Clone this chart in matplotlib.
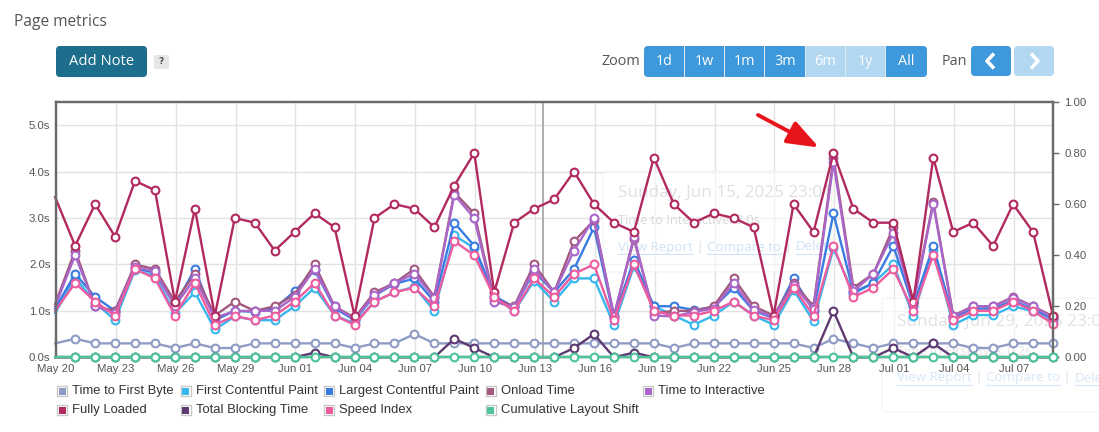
import matplotlib
matplotlib.use("Agg")
import matplotlib.pyplot as plt
import matplotlib.dates as mdates
from matplotlib.patches import FancyBboxPatch, Rectangle, FancyArrowPatch
from matplotlib.transforms import IdentityTransform
from matplotlib.ticker import FixedLocator
import pandas as pd

plt.rcParams["font.family"] = ["Liberation Sans", "DejaVu Sans"]

W, H = 1099, 432

# ---------------- data ----------------
dates = pd.date_range("2025-05-19 23:01", periods=51, freq="D")

fully_loaded = [3.45, 2.40, 3.30, 2.60, 3.80, 3.60, 1.20, 3.20, 0.90, 3.00, 2.90, 2.30, 2.70,
                3.10, 2.80, 0.90, 3.00, 3.30, 3.20, 2.80, 3.70, 4.40, 1.40, 2.90, 3.20, 3.40,
                4.00, 3.30, 2.90, 2.70, 4.30, 3.30, 2.90, 3.10, 3.00, 2.80, 0.90, 3.30, 2.70,
                4.40, 3.20, 2.90, 2.90, 1.20, 4.30, 2.70, 2.90, 2.40, 3.30, 2.70, 0.90]
onload = [1.15, 2.30, 1.10, 1.00, 2.00, 1.90, 1.20, 1.80, 0.90, 1.20, 1.00, 1.10, 1.35,
          2.00, 1.10, 0.85, 1.40, 1.60, 1.90, 1.30, 3.55, 3.10, 1.25, 1.10, 2.00, 1.40,
          2.50, 2.95, 0.90, 2.55, 0.95, 1.00, 1.00, 1.10, 1.70, 1.10, 0.90, 1.60, 1.10,
          4.30, 1.50, 1.80, 2.80, 1.20, 3.35, 0.90, 1.10, 1.10, 1.30, 1.10, 0.88]
tti = [1.10, 2.20, 1.10, 0.95, 1.95, 1.85, 1.10, 1.70, 0.85, 1.00, 1.00, 1.00, 1.30,
       1.90, 1.10, 0.82, 1.35, 1.60, 1.80, 1.28, 3.50, 3.00, 1.20, 1.08, 1.90, 1.40,
       2.30, 3.00, 0.88, 2.60, 0.90, 0.88, 0.98, 1.05, 1.60, 1.02, 0.88, 1.55, 1.05,
       4.20, 1.42, 1.80, 2.68, 1.15, 3.30, 0.88, 1.10, 1.10, 1.28, 1.10, 0.85]
lcp = [1.05, 1.80, 1.30, 1.00, 1.92, 1.82, 1.12, 1.90, 0.80, 1.00, 0.98, 1.06, 1.42,
       1.88, 1.06, 0.80, 1.33, 1.58, 1.70, 1.20, 2.90, 2.40, 1.32, 1.08, 1.85, 1.40,
       1.90, 2.80, 0.85, 2.10, 1.10, 1.10, 1.02, 1.08, 1.50, 1.00, 0.85, 1.70, 1.00,
       3.10, 1.40, 1.60, 2.40, 1.10, 2.40, 0.85, 1.05, 1.05, 1.22, 1.04, 0.82]
fcp = [0.95, 1.72, 1.18, 0.80, 1.88, 1.75, 0.95, 1.40, 0.60, 0.88, 0.80, 0.80, 1.10,
       1.50, 0.90, 0.73, 1.20, 1.40, 1.52, 1.00, 2.63, 2.35, 1.30, 0.99, 1.65, 1.20,
       1.70, 1.70, 0.70, 1.96, 1.10, 0.90, 0.70, 0.90, 1.20, 0.90, 0.70, 1.45, 0.78,
       2.35, 1.37, 1.60, 2.00, 0.90, 2.32, 0.70, 0.91, 0.91, 1.10, 0.99, 0.75]
speed_index = [1.00, 1.60, 1.20, 0.90, 1.90, 1.70, 0.90, 1.60, 0.70, 0.89, 0.80, 0.90, 1.20,
               1.60, 0.90, 0.70, 1.20, 1.40, 1.50, 1.10, 2.50, 2.20, 1.30, 1.00, 1.70, 1.30,
               1.80, 2.00, 0.80, 2.00, 1.00, 0.90, 0.90, 1.00, 1.20, 0.90, 0.80, 1.50, 0.90,
               2.40, 1.30, 1.50, 1.90, 1.00, 2.20, 0.80, 1.00, 1.00, 1.20, 1.00, 0.72]
ttfb = [0.30, 0.40, 0.30, 0.30, 0.30, 0.30, 0.20, 0.30, 0.20, 0.20, 0.30, 0.30, 0.30,
        0.30, 0.30, 0.20, 0.30, 0.30, 0.50, 0.30, 0.30, 0.30, 0.30, 0.30, 0.30, 0.30,
        0.30, 0.30, 0.30, 0.30, 0.30, 0.20, 0.30, 0.30, 0.30, 0.30, 0.30, 0.30, 0.20,
        0.40, 0.30, 0.20, 0.30, 0.30, 0.30, 0.30, 0.20, 0.20, 0.30, 0.30, 0.30]
tbt = [0.0, 0.0, 0.0, 0.0, 0.0, 0.0, 0.0, 0.0, 0.0, 0.0, 0.0, 0.0, 0.0,
       0.1, 0.0, 0.0, 0.0, 0.0, 0.0, 0.0, 0.4, 0.2, 0.0, 0.0, 0.0, 0.0,
       0.2, 0.5, 0.0, 0.1, 0.0, 0.0, 0.0, 0.0, 0.0, 0.0, 0.0, 0.0, 0.0,
       1.0, 0.0, 0.0, 0.2, 0.0, 0.3, 0.0, 0.0, 0.0, 0.0, 0.0, 0.0]
cls = [0.0] * 51

x_ticks = pd.date_range("2025-05-20", "2025-07-07", freq="3D")
left_ticks = [0, 1, 2, 3, 4, 5]
left_labels = ["0.0s", "1.0s", "2.0s", "3.0s", "4.0s", "5.0s"]
right_ticks = [0.0, 0.2, 0.4, 0.6, 0.8, 1.0]
right_labels = ["0.00", "0.20", "0.40", "0.60", "0.80", "1.00"]

# name, values, color, axis ; drawing order
series = [
    ("Time to First Byte", ttfb, "#8e9bc4", "left"),
    ("First Contentful Paint", fcp, "#36b7ee", "left"),
    ("Largest Contentful Paint", lcp, "#3a7be2", "left"),
    ("Onload Time", onload, "#a3587f", "left"),
    ("Time to Interactive", tti, "#a867c9", "left"),
    ("Fully Loaded", fully_loaded, "#b1295f", "left"),
    ("Total Blocking Time", tbt, "#5e3a72", "left"),
    ("Speed Index", speed_index, "#ee5c9f", "left"),
    ("Cumulative Layout Shift", cls, "#4cc49a", "right"),
]
legend_order = ["Time to First Byte", "First Contentful Paint", "Largest Contentful Paint",
                "Onload Time", "Time to Interactive", "Fully Loaded", "Total Blocking Time",
                "Speed Index", "Cumulative Layout Shift"]

# ---------------- figure ----------------
fig = plt.figure(figsize=(W / 100, H / 100), dpi=100)
fig.patch.set_facecolor("white")
L, R, T, B = 56, 1053, 102, 357.3
ax = fig.add_axes([L / W, 1 - B / H, (R - L) / W, (B - T) / H])
ax2 = ax.twinx()

ax.set_xlim(pd.Timestamp("2025-05-20 00:00"), dates[-1])
ax.set_ylim(0, 5.5)
ax2.set_ylim(0, 1.0)

ax.xaxis.set_major_locator(FixedLocator(mdates.date2num(x_ticks)))
ax.xaxis.set_major_formatter(mdates.DateFormatter("%b %d"))
ax.set_yticks(left_ticks)
ax.set_yticklabels(left_labels)
ax2.set_yticks(right_ticks)
ax2.set_yticklabels(right_labels)

ax.grid(True, color="#e2e2e2", lw=1.0, zorder=0)
ax.set_axisbelow(True)
# date labels are drawn by the (top-most) twin axes so the faded tooltip does not cover them
ax.tick_params(axis="x", length=0, labelbottom=False)
ax2.xaxis.set_visible(True)
ax2.tick_params(axis="x", length=0, pad=5, labelbottom=True, labelsize=8.2,
                labelcolor="#555555")
ax.tick_params(axis="y", length=0, pad=4, labelsize=8.2, labelcolor="#555555")
ax2.tick_params(axis="y", length=4, width=1, color="#666666", pad=4, labelsize=8.2,
                labelcolor="#555555")

for a in (ax, ax2):
    for s in a.spines.values():
        s.set_color("#6a6a6a")
        s.set_linewidth(1.6)

# hover crosshair line
ax.axvline(pd.Timestamp("2025-06-13 09:40"), color="#a8a8a8", lw=1.3, zorder=1)

for name, vals, color, side in series:
    target = ax if side == "left" else ax2
    target.plot(dates, vals, color=color, lw=1.7, marker="o", ms=5.6,
                mfc="white", mec=color, mew=1.5, markevery=list(range(1, len(vals))),
                clip_on=False, zorder=3)

# ---------------- helpers in pixel coords ----------------
ID = IdentityTransform()


def rbox(x0, y0, x1, y1, color, r=3, z=5, alpha=1.0, ec="none", lw=0, host=None):
    p = FancyBboxPatch((x0, H - y1), x1 - x0, y1 - y0,
                       boxstyle=f"round,pad=0,rounding_size={r}",
                       transform=ID, fc=color, ec=ec, lw=lw, zorder=z, alpha=alpha)
    if host is None:
        fig.patches.append(p)
    else:
        p.set_clip_on(False)
        host.add_patch(p)
    return p


def rect(x0, y0, x1, y1, color, z=6, ec="none", lw=0):
    p = Rectangle((x0, H - y1), x1 - x0, y1 - y0, transform=ID, fc=color,
                  ec=ec, lw=lw, zorder=z)
    fig.patches.append(p)
    return p


def ptext(x, y, s, host=None, **kw):
    if host is None:
        return fig.text(x, H - y, s, transform=ID, **kw)
    return host.text(x, H - y, s, transform=ID, clip_on=False, **kw)


hdr_font = "Open Sans"
# title
ptext(14, 22, "Page metrics", fontsize=11.2, color="#555555", family=hdr_font,
      va="center", ha="left")
# Add Note button
rbox(56, 46, 147, 77, "#1d6d8c", r=4)
ptext(101.5, 61.5, "Add Note", fontsize=10.6, color="white", family=hdr_font,
      va="center", ha="center", zorder=7)
rbox(154, 55, 169, 69, "#e6e6e6", r=2)
ptext(161.5, 62, "?", fontsize=6.5, color="#555555", family="DejaVu Sans",
      weight="bold", va="center", ha="center", zorder=7)

# zoom buttons
BLUE, LIGHT = "#3d99dc", "#b2d7f1"
ptext(640, 61.5, "Zoom", fontsize=10.4, color="#555555", family=hdr_font,
      va="center", ha="right")
zoom_labels = ["1d", "1w", "1m", "3m", "6m", "1y", "All"]
zoom_active = [True, True, True, True, False, False, True]
bx = [644, 684.5, 724.5, 764.5, 805.3, 845.3, 885.5, 927]
rbox(644, 46, 927, 77, BLUE, r=4)
for i, (lab, act) in enumerate(zip(zoom_labels, zoom_active)):
    if not act:
        rect(bx[i], 46, bx[i + 1], 77, LIGHT)
    ptext((bx[i] + bx[i + 1]) / 2, 61.5, lab, fontsize=10.4, color="white",
          family=hdr_font, va="center", ha="center", zorder=8)
for xs in bx[1:-1]:
    rect(xs - 0.5, 46, xs + 0.5, 77, "#dfe9f2", z=7)

ptext(967, 61.5, "Pan", fontsize=10.4, color="#555555", family=hdr_font,
      va="center", ha="right")
rbox(971, 46, 1011, 76, BLUE, r=4)
rbox(1014, 46, 1054, 76, LIGHT, r=4)
fig.lines.append(plt.Line2D([994, 987, 994], [H - 53.5, H - 61, H - 68.5], transform=ID,
                            color="white", lw=2.6, solid_capstyle="butt", zorder=8))
fig.lines.append(plt.Line2D([1031, 1038, 1031], [H - 53.5, H - 61, H - 68.5], transform=ID,
                            color="white", lw=2.6, solid_capstyle="butt", zorder=8))

# ---------------- faded tooltips (behind the series) ----------------
rbox(603, 171, 832, 272, "#ffffff", r=4, z=1.5, alpha=0.6, ec="#efefef", lw=1, host=ax)
ptext(618, 193, "Sunday, Jun 15, 2025 23:01", host=ax, fontsize=12.3, color="#e0e0e0",
      family=hdr_font, va="center", ha="left", zorder=2)
ptext(618, 221, "Time to Interactive: 3.0s", host=ax, fontsize=9.2, color="#d8d8d8",
      family=hdr_font, va="center", ha="left", zorder=2)

rbox(882, 298, 1110, 412, "#ffffff", r=4, z=1.5, alpha=0.6, ec="#efefef", lw=1, host=ax)
ptext(897, 322, "Sunday, Jun 29, 2025 23:03", host=ax, fontsize=12.3, color="#e2e2e2",
      family=hdr_font, va="center", ha="left", zorder=2)
ptext(897, 352, "Time to First Byte: 0.2s", host=ax, fontsize=9.2, color="#e4e4e4",
      family=hdr_font, va="center", ha="left", zorder=2)

fig.canvas.draw()
renderer = fig.canvas.get_renderer()


def link_row(x, y, color, sep_color):
    parts = [("View Report", True), (" | ", False), ("Compare to", True), (" | ", False),
             ("Delete", True)]
    cx = x
    for s, und in parts:
        t = ptext(cx, y, s, host=ax, fontsize=9.6, color=color if und else sep_color,
                  family=hdr_font, va="center", ha="left", zorder=2)
        bb = t.get_window_extent(renderer)
        if und:
            ln = plt.Line2D([bb.x0, bb.x1], [H - y - 7, H - y - 7], transform=ID,
                            color=color, lw=0.8, zorder=2, clip_on=False)
            ax.add_line(ln)
        cx += bb.width


link_row(618, 247, "#cfe2f6", "#dddddd")
link_row(897, 378, "#d6e7f7", "#e3e3e3")

# ---------------- red arrow ----------------
fig.patches.append(FancyArrowPatch(
    (758, H - 115), (819, H - 147.5), transform=ID,
    arrowstyle="-|>,head_length=12,head_width=4.5",
    mutation_scale=1.6, color="#e8141c", lw=2.8, zorder=9, shrinkA=0, shrinkB=0))

# ---------------- legend ----------------
col_x = [57, 180.6, 324.4, 485.8, 643.4]
row_y = [391, 410]
color_of = {n: c for n, v, c, s in series}
for i, name in enumerate(legend_order):
    r, c = divmod(i, 5)
    x0, yc = col_x[c], row_y[r]
    rect(x0, yc - 5, x0 + 10, yc + 5, "white", z=6, ec="#c8c8c8", lw=1)
    rect(x0 + 1.5, yc - 3.5, x0 + 8.5, yc + 3.5, color_of[name], z=7)
    ptext(x0 + 15, yc, name, fontsize=9.4, color="#333333", family="Liberation Sans",
          va="center", ha="left", zorder=7)

fig.savefig("out.png", dpi=100, facecolor="white")
